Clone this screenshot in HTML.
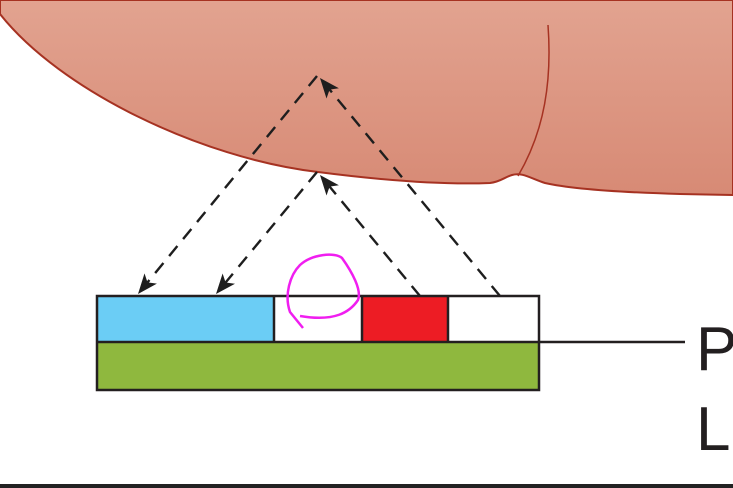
<!DOCTYPE html>
<html><head><style>html,body{margin:0;padding:0;background:#fff;width:733px;height:488px;overflow:hidden}</style></head><body>
<svg width="733" height="488" viewBox="0 0 733 488" xmlns="http://www.w3.org/2000/svg">
<defs>
<linearGradient id="g" x1="0" y1="0" x2="0" y2="1"><stop offset="0" stop-color="#e2a390"/><stop offset="1" stop-color="#d78a75"/></linearGradient>
</defs>
<path d="M0,0 L733,0 L733,195 C650,194 580,191 545,183 C530,178 522,172 512,175 C505,177 500,182 490,183 C440,185 380,180 318,172 C200,158 60,90 0,14 Z" fill="url(#g)" stroke="#a63222" stroke-width="2"/>
<path d="M548,25 C552,80 545,130 518,176" fill="none" stroke="#a63222" stroke-width="1.5"/>
<g stroke="#1e1e1e" stroke-width="2.4" fill="none" stroke-dasharray="13,9">
<line x1="317" y1="76" x2="147.5" y2="282.4"/>
<line x1="500" y1="296" x2="329.6" y2="89.6"/>
<line x1="317" y1="172" x2="225.6" y2="282.5"/>
<line x1="420" y1="296" x2="329.6" y2="186.6"/>
</g>
<g fill="#1e1e1e">
<polygon points="138,294 156.9,283.6 147.5,282.4 144.5,273.4"/>
<polygon points="320,78 338.9,88.3 329.6,89.6 326.5,98.5"/>
<polygon points="216,294 235,283.7 225.6,282.5 222.6,273.5"/>
<polygon points="320,175 338.9,185.3 329.6,186.6 326.5,195.5"/>
</g>
<rect x="97" y="296" width="177" height="46" fill="#6bcdf5"/>
<rect x="362" y="296" width="86" height="46" fill="#ed1c24"/>
<rect x="97" y="342" width="442" height="48" fill="#8fb83e"/>
<g stroke="#231f20" stroke-width="2.5" fill="none">
<rect x="97" y="296" width="442" height="94"/>
<line x1="97" y1="342" x2="685" y2="342"/>
<line x1="274" y1="296" x2="274" y2="342"/>
<line x1="362" y1="296" x2="362" y2="342"/>
<line x1="448" y1="296" x2="448" y2="342"/>
</g>
<path d="M303,328 L290,312 C284,295 290,275 300,265 C312,254 335,252 342,258 C352,272 362,290 358,300 C350,312 335,322 300,316" fill="none" stroke="#f01ef0" stroke-width="2.5"/>
<text x="696" y="370" font-family="Liberation Sans, sans-serif" font-size="62" fill="#231f20">P</text>
<text x="696" y="450" font-family="Liberation Sans, sans-serif" font-size="62" fill="#231f20">L</text>
<rect x="0" y="484" width="733" height="4" fill="#222"/>
</svg>
</body></html>
